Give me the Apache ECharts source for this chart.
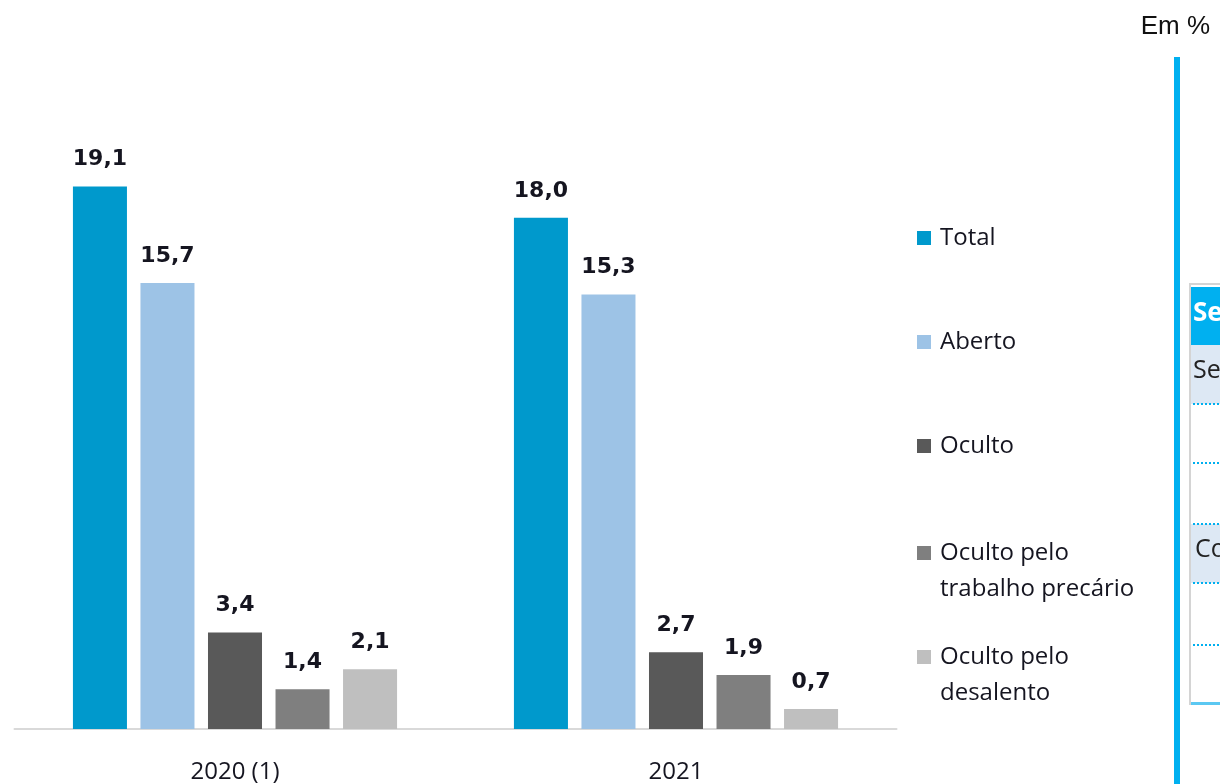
<!DOCTYPE html>
<html>
<head>
<meta charset="utf-8">
<script src="https://cdn.jsdelivr.net/npm/echarts@6/dist/echarts.min.js"></script>
<style>
html,body{margin:0;padding:0;background:#fff;}
#chart{width:1220px;height:784px;}
</style>
</head>
<body>
<div id="chart"></div>
<script>
const categories = ['2020 (1)', '2021'];
const seriesNames = ['Total', 'Aberto', 'Oculto', 'Oculto pelo\ntrabalho precário', 'Oculto pelo\ndesalento'];
const totalValues = [19.1, 18.0];
const abertoValues = [15.7, 15.3];
const ocultoValues = [3.4, 2.7];
const precarioValues = [1.4, 1.9];
const desalentoValues = [2.1, 0.7];
const unitLabel = 'Em %';

const colors = ['#0099CC', '#9DC3E6', '#595959', '#7F7F7F', '#BFBFBF'];
const allValues = [totalValues, abertoValues, ocultoValues, precarioValues, desalentoValues];

const chart = echarts.init(document.getElementById('chart'), null, {renderer: 'canvas'});

const series = seriesNames.map((name, i) => ({
  name: name,
  type: 'bar',
  data: allValues[i],
  barGap: '25%',
  barCategoryGap: '26.5%',
  itemStyle: {color: colors[i]},
  label: {
    show: true,
    position: 'top',
    distance: 16,
    fontFamily: 'DejaVu Sans',
    fontWeight: 'bold',
    fontSize: 22,
    color: '#151520',
    formatter: p => p.value.toFixed(1).replace('.', ',')
  }
}));

const legendCenters = [238, 342, 446, 553, 657];
const LH = 36;
const legends = seriesNames.map((name, i) => {
  const multi = name.indexOf('\n') >= 0;
  const h = multi ? LH * 3 : LH;
  return {
    data: [name],
    left: 917,
    top: legendCenters[i] - h / 2,
    orient: 'vertical',
    padding: 0,
    itemWidth: 14,
    itemHeight: 14,
    icon: 'rect',
    selectedMode: false,
    formatter: n => (n.indexOf('\n') >= 0 ? '\n' + n : n),
    textStyle: {
      fontFamily: 'Open Sans',
      fontSize: 24,
      color: '#151520',
      lineHeight: LH,
      padding: [0, 0, 0, 4]
    }
  };
});

const option = {
  backgroundColor: '#fff',
  animation: false,
  grid: {left: 14.5, right: 323.5, top: 161, bottom: 53, containLabel: false},
  xAxis: {
    type: 'category',
    data: categories,
    axisLine: {show: true, lineStyle: {color: '#d9d9d9', width: 2}},
    axisTick: {show: false},
    axisLabel: {
      margin: 31,
      fontFamily: 'Open Sans',
      fontSize: 24,
      color: '#151520'
    }
  },
  yAxis: {
    type: 'value',
    min: 0,
    max: 20,
    show: false,
    splitLine: {show: false}
  },
  legend: legends,
  series: series,
  graphic: [
    {
      type: 'text',
      right: 10,
      top: 14,
      style: {text: unitLabel, fontFamily: 'Liberation Sans', fontSize: 26, fill: '#111'}
    },
    {
      type: 'rect',
      shape: {x: 1174, y: 57, width: 6, height: 730},
      style: {fill: '#00B0F0'}
    },
    {
      type: 'rect',
      shape: {x: 1190, y: 284, width: 40, height: 420},
      style: {fill: '#fff', stroke: '#d4d4d4', lineWidth: 2}
    },
    {
      type: 'rect',
      shape: {x: 1191, y: 287, width: 40, height: 58},
      style: {fill: '#00B0F0'}
    },
    {
      type: 'rect',
      shape: {x: 1191, y: 345, width: 40, height: 59},
      style: {fill: '#DDE8F4'}
    },
    {
      type: 'rect',
      shape: {x: 1191, y: 524, width: 40, height: 59},
      style: {fill: '#DDE8F4'}
    },
    {
      type: 'rect',
      shape: {x: 1191, y: 702, width: 40, height: 3},
      style: {fill: '#5BC8F2'}
    },
    ...[404, 463, 524, 583, 645].map(y => ({
      type: 'line',
      shape: {x1: 1193, y1: y, x2: 1220, y2: y},
      style: {stroke: '#00B0F0', lineWidth: 2, lineDash: [2, 2]}
    })),
    {
      type: 'text',
      left: 1193,
      top: 301,
      style: {text: 'Setor', fontFamily: 'Open Sans', fontWeight: 'bold', fontSize: 26, fill: '#fff'}
    },
    {
      type: 'text',
      left: 1193,
      top: 358,
      style: {text: 'Sexo', fontFamily: 'Open Sans', fontSize: 25, fill: '#222'}
    },
    {
      type: 'text',
      left: 1195,
      top: 537,
      style: {text: 'Cor', fontFamily: 'Open Sans', fontSize: 25, fill: '#222'}
    }
  ]
};

chart.setOption(option);
</script>
</body>
</html>
